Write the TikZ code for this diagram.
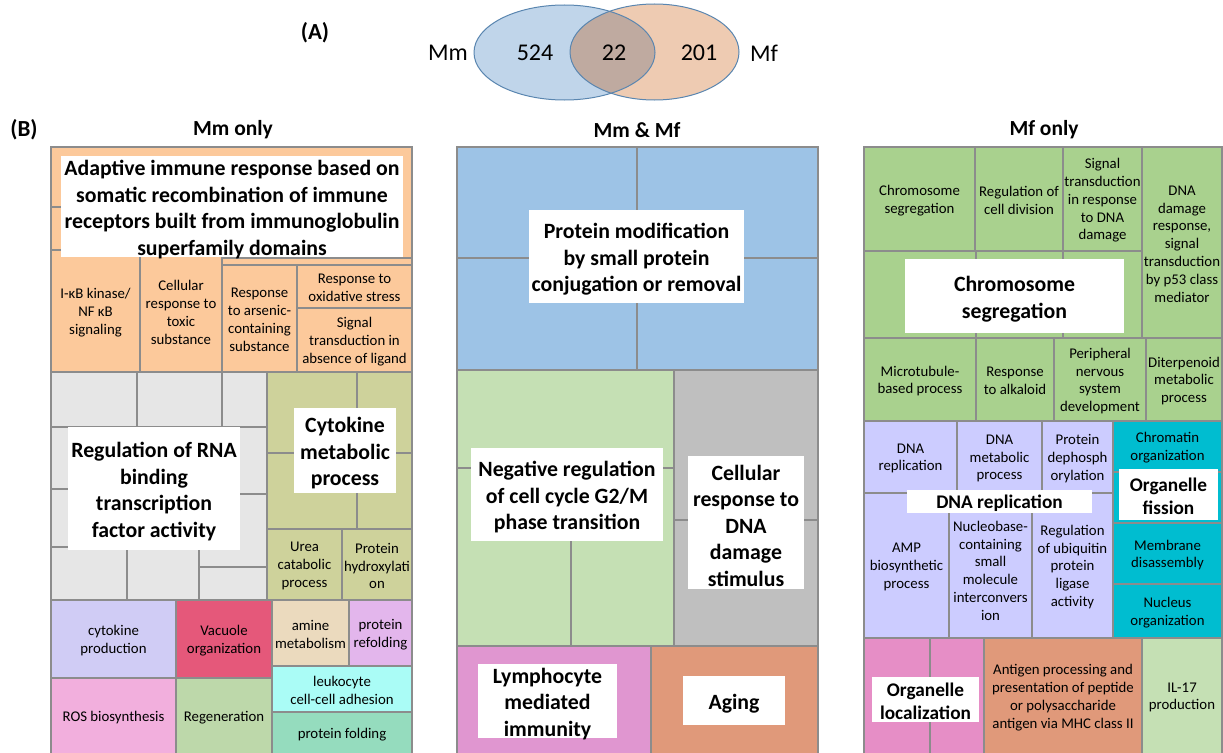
\documentclass[tikz,border=0pt]{standalone}
\usepackage{fontspec}
\setmainfont{Carlito}

% treemap palette
\definecolor{cellgray}{HTML}{8C8C8C}
\definecolor{peach}{HTML}{FCC99B}
\definecolor{lightgrey}{HTML}{E6E6E6}
\definecolor{olive}{HTML}{CED29B}
\definecolor{lavenderA}{HTML}{D0CCF5}
\definecolor{vacuolered}{HTML}{E5587A}
\definecolor{beige}{HTML}{EBDABE}
\definecolor{lilac}{HTML}{E3B6EC}
\definecolor{paleaqua}{HTML}{AAFCF6}
\definecolor{mint}{HTML}{95DCBE}
\definecolor{rospink}{HTML}{F2AFDD}
\definecolor{sage}{HTML}{BDD8AA}
\definecolor{skyblue}{HTML}{9DC3E6}
\definecolor{palegreen}{HTML}{C5E0B4}
\definecolor{midgrey}{HTML}{BFBFBF}
\definecolor{orchid}{HTML}{E096D0}
\definecolor{salmon}{HTML}{E0997A}
\definecolor{leafgreen}{HTML}{A9D18E}
\definecolor{periwinkle}{HTML}{CCCCFF}
\definecolor{teal}{HTML}{00BDD0}
\definecolor{hotpink}{HTML}{E68EC6}
% venn palette
\definecolor{vennblue}{HTML}{C0D5EA}
\definecolor{vennpeach}{HTML}{EECBB2}
\definecolor{vennmid}{HTML}{BFAAA0}
\definecolor{vennline}{HTML}{5A86B0}

\tikzset{
  cellline/.style={draw=cellgray, line width=1.3pt},
  smalltxt/.style={align=center, inner sep=0pt, text=black, yshift=-1.5pt,
    font=\fontsize{14.8}{17.8}\selectfont},
  bigtxt/.style={align=center, inner sep=0pt, text=black, yshift=-3pt,
    font=\fontsize{21.8}{26.5}\selectfont\bfseries},
  midtxt/.style={yshift=1pt, font=\fontsize{19.3}{22.5}\selectfont\bfseries},
  paneltitle/.style={font=\fontsize{21.5}{26}\selectfont\bfseries},
  venntxt/.style={font=\fontsize{24}{28}\selectfont},
}

% one treemap cell: name, x1, y1, x2, y2, fill, label
\newcommand\tmcell[7]{%
  \filldraw[cellline, fill=#6] (#2,#3) rectangle (#4,#5);
  \begin{scope}
    \clip (#2,#3) rectangle (#4,#5);
    \node[smalltxt] (#1) at ({(#2+#4)/2},{(#3+#5)/2}) {#7};
  \end{scope}}
% white cluster label: [style], name, x1, y1, x2, y2, label
\newcommand\tmlabel[7][]{%
  \fill[white] (#3,#4) rectangle (#5,#6);
  \node[bigtxt, #1] (#2) at ({(#3+#5)/2},{(#4+#6)/2}) {#7};}

\begin{document}
\begin{tikzpicture}[x=1pt, y=-1pt]
\useasboundingbox (0,0) rectangle (1223,752);
\clip (0,0) rectangle (1223,752);
\fill[white] (0,0) rectangle (1223,752);

% ---------- (A) Venn diagram ----------
\node[paneltitle, font=\fontsize{23}{27}\selectfont\bfseries] (tA) at (315,33) {(A)};
\fill[vennblue] (564.5,52.5) ellipse [x radius=90.5pt, y radius=47.5pt];
\fill[vennpeach] (654.5,52) ellipse [x radius=84.5pt, y radius=48pt];
\begin{scope}
  \clip (564.5,52.5) ellipse [x radius=90.5pt, y radius=47.5pt];
  \fill[vennmid] (654.5,52) ellipse [x radius=84.5pt, y radius=48pt];
\end{scope}
\draw[vennline, line width=1pt] (564.5,52.5) ellipse [x radius=90.5pt, y radius=47.5pt];
\draw[vennline, line width=1pt] (654.5,52) ellipse [x radius=84.5pt, y radius=48pt];
\node[venntxt] (vmm) at (448,53) {Mm};
\node[venntxt] (vonly) at (535,53) {524};
\node[venntxt] (vboth) at (614,53) {22};
\node[venntxt] (vmf) at (699,53) {201};
\node[venntxt] (vmflab) at (764,53) {Mf};

% ---------- (B) titles ----------
\node[paneltitle, font=\fontsize{23}{27}\selectfont\bfseries] (tB) at (24,130) {(B)};
\node[paneltitle] (tleft) at (233,130) {Mm only};
\node[paneltitle] (tmid) at (637,130) {Mm \& Mf};
\node[paneltitle] (tright) at (1044,130) {Mf only};

% ---------- Mm only ----------
\fill[peach] (51,147) rectangle (412,372);
\draw[cellline] (51,207) -- (70,207);
\tmcell{ikb}{51}{250}{140}{372}{peach}{I-κB kinase/\\NF κB\\signaling}
\tmcell{toxic}{140}{250}{222}{372}{peach}{Cellular\\response to\\toxic\\substance}
\draw[cellline] (222,258) -- (412,258);
\tmcell{arsenic}{222}{265}{297}{372}{peach}{Response\\to arsenic-\\containing\\substance}
\tmcell{oxid}{297}{265}{412}{308}{peach}{Response to\\oxidative stress}
\tmcell{sigabs}{297}{308}{412}{372}{peach}{Signal\\transduction in\\absence of ligand}

\filldraw[cellline, fill=lightgrey] (51,372) rectangle (267,600);
\draw[cellline] (137,372) -- (137,427);
\draw[cellline] (222,372) -- (222,427);
\draw[cellline] (51,427) -- (267,427);
\draw[cellline] (51,489) -- (80,489);
\draw[cellline] (230,494) -- (267,494);
\draw[cellline] (51,547) -- (80,547);
\draw[cellline] (127,540) -- (127,600);
\draw[cellline] (199,540) -- (199,600);
\draw[cellline] (199,567) -- (267,567);

\filldraw[cellline, fill=olive] (267,372) rectangle (412,600);
\draw[cellline] (357,372) -- (357,529);
\draw[cellline] (267,453) -- (412,453);
\tmcell{urea}{267}{529}{342}{600}{olive}{Urea\\catabolic\\process}
\tmcell{hydrox}{342}{529}{412}{600}{olive}{Protein\\hydroxylati\\on}

\tmcell{cytprod}{51}{600}{176}{678}{lavenderA}{cytokine\\production}
\tmcell{vacuole}{176}{600}{272}{678}{vacuolered}{Vacuole\\organization}
\tmcell{amine}{272}{600}{349}{666}{beige}{amine\\metabolism}
\tmcell{refold}{349}{600}{412}{666}{lilac}{protein\\refolding}
\tmcell{leuko}{272}{666}{412}{712}{paleaqua}{leukocyte\\cell-cell adhesion}
\tmcell{folding}{272}{712}{412}{754}{mint}{protein folding}
\tmcell{ros}{51}{678}{176}{754}{rospink}{ROS biosynthesis}
\tmcell{regen}{176}{678}{272}{754}{sage}{Regeneration}
\draw[cellline] (51,147) rectangle (412,754);

\tmlabel{adaptive}{61}{156}{403}{257}{Adaptive immune response based on\\somatic recombination of immune\\receptors built from immunoglobulin\\superfamily domains}
\tmlabel{rnabind}{68}{427}{240}{550}{Regulation of RNA\\binding\\transcription\\factor activity}
\tmlabel{cytmeta}{294}{408}{396}{493}{Cytokine\\metabolic\\process}

% ---------- Mm & Mf ----------
\filldraw[cellline, fill=skyblue] (457,147) rectangle (818,370);
\draw[cellline] (637,147) -- (637,370);
\draw[cellline] (457,258) -- (818,258);
\filldraw[cellline, fill=palegreen] (457,370) rectangle (674,646);
\draw[cellline] (457,468) -- (674,468);
\draw[cellline] (571,468) -- (571,646);
\filldraw[cellline, fill=midgrey] (674,370) rectangle (818,646);
\draw[cellline] (674,520) -- (818,520);
\filldraw[cellline, fill=orchid] (457,646) rectangle (651,754);
\filldraw[cellline, fill=salmon] (651,646) rectangle (818,754);

\tmlabel{protmod}{529}{210}{744}{303}{Protein modification\\by small protein\\conjugation or removal}
\tmlabel{negreg}{471}{448}{663}{541}{Negative regulation\\of cell cycle G2/M\\phase transition}
\tmlabel{dnadmg}{688}{456}{804}{589}{Cellular\\response to\\DNA\\damage\\stimulus}
\tmlabel{lympho}{478}{664}{617}{738}{Lymphocyte\\mediated\\immunity}
\tmlabel{aging}{683}{676}{785}{725}{Aging}

% ---------- Mf only ----------
\tmcell{chrsmall}{864}{147}{975}{251}{leafgreen}{Chromosome\\segregation}
\tmcell{celldiv}{975}{147}{1063}{251}{leafgreen}{Regulation of\\cell division}
\tmcell{sigdna}{1063}{147}{1142}{251}{leafgreen}{Signal\\transduction\\in response\\to DNA\\damage}
\tmcell{p53}{1142}{147}{1222}{338}{leafgreen}{DNA\\damage\\response,\\signal\\transduction\\by p53 class\\mediator}
\filldraw[cellline, fill=leafgreen] (864,251) rectangle (1142,338);
\draw[cellline] (976,251) -- (976,338);
\draw[cellline] (1063,251) -- (1063,338);
\tmcell{microtub}{864}{338}{976}{421}{leafgreen}{Microtubule-\\based process}
\tmcell{alkaloid}{976}{338}{1054}{421}{leafgreen}{Response\\to alkaloid}
\tmcell{nervous}{1054}{338}{1146}{421}{leafgreen}{Peripheral\\nervous\\system\\development}
\tmcell{diterp}{1146}{338}{1222}{421}{leafgreen}{Diterpenoid\\metabolic\\process}

\tmcell{dnarep}{864}{421}{957}{493}{periwinkle}{DNA\\replication}
\tmcell{dnameta}{957}{421}{1042}{493}{periwinkle}{DNA\\metabolic\\process}
\tmcell{dephos}{1042}{421}{1113}{493}{periwinkle}{Protein\\dephosph\\orylation}
\tmcell{amp}{864}{493}{949}{638}{periwinkle}{AMP\\biosynthetic\\process}
\tmcell{nucleo}{949}{493}{1032}{638}{periwinkle}{\\Nucleobase-\\containing\\small\\molecule\\interconvers\\ion}
\tmcell{ubiq}{1032}{493}{1113}{638}{periwinkle}{Regulation\\of ubiquitin\\protein\\ligase\\activity}

\tmcell{chromatin}{1113}{421}{1222}{472}{teal}{Chromatin\\organization}
\filldraw[cellline, fill=teal] (1113,472) rectangle (1222,523);
\tmcell{membrane}{1113}{523}{1222}{584}{teal}{Membrane\\disassembly}
\tmcell{nucleus}{1113}{584}{1222}{638}{teal}{Nucleus\\organization}

\filldraw[cellline, fill=hotpink] (864,638) rectangle (984,754);
\draw[cellline] (930,638) -- (930,754);
\tmcell{antigen}{984}{638}{1142}{754}{salmon}{Antigen processing and\\presentation of peptide\\or polysaccharide\\antigen via MHC class II}
\tmcell{il17}{1142}{638}{1222}{754}{palegreen}{IL-17\\production}

\tmlabel{chrbig}{905}{259}{1124}{333}{Chromosome\\segregation}
\tmlabel[midtxt]{dnarepbig}{907}{490}{1092}{513}{DNA replication}
\tmlabel[midtxt]{fission}{1119}{469}{1218}{520}{Organelle\\fission}
\tmlabel[midtxt]{orgloc}{872}{677}{979}{722}{Organelle\\localization}
\end{tikzpicture}
\end{document}
